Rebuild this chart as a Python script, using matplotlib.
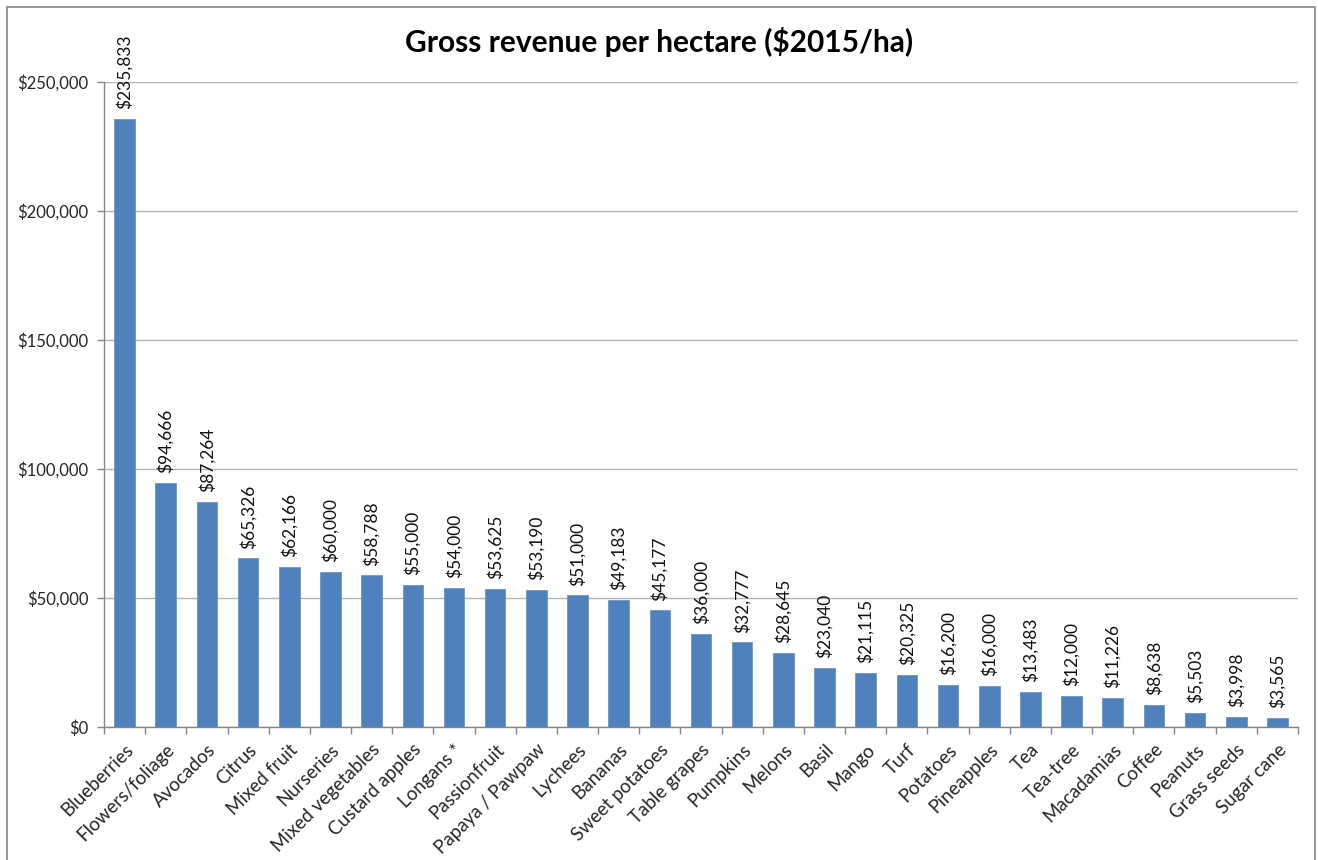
import matplotlib
matplotlib.use("Agg")
import matplotlib.pyplot as plt
from matplotlib.patches import Rectangle
from matplotlib.ticker import FuncFormatter, MultipleLocator, FixedLocator
import numpy as np

plt.rcParams['font.family'] = ['Lato', 'DejaVu Sans']

crops = ["Blueberries", "Flowers/foliage", "Avocados", "Citrus", "Mixed fruit",
         "Nurseries", "Mixed vegetables", "Custard apples", "Longans *",
         "Passionfruit", "Papaya / Pawpaw", "Lychees", "Bananas",
         "Sweet potatoes", "Table grapes", "Pumpkins", "Melons", "Basil",
         "Mango", "Turf", "Potatoes", "Pineapples", "Tea", "Tea-tree",
         "Macadamias", "Coffee", "Peanuts", "Grass seeds", "Sugar cane"]
revenue = [235833, 94666, 87264, 65326, 62166, 60000, 58788, 55000, 54000,
           53625, 53190, 51000, 49183, 45177, 36000, 32777, 28645, 23040,
           21115, 20325, 16200, 16000, 13483, 12000, 11226, 8638, 5503,
           3998, 3565]

W, H = 1318, 860
fig = plt.figure(figsize=(W / 100, H / 100), dpi=100)
ax = fig.add_axes([104 / W, 1 - 727 / H, (1298 - 104) / W, (727 - 82) / H])

x = np.arange(len(crops))
bar_color = "#4F81BD"
ax.bar(x, revenue, width=0.5, color=bar_color, edgecolor="#6A96CC",
       linewidth=0.6, zorder=3)

for xi, v in zip(x, revenue):
    ax.annotate(f"${v:,.0f}", (xi, v), xytext=(0, 7), textcoords="offset points",
                rotation=90, ha="center", va="bottom", fontsize=12.5,
                color="#111111")

ax.set_xlim(-0.5, len(crops) - 0.5)
ax.set_ylim(0, 250000)
ax.yaxis.set_major_locator(MultipleLocator(50000))
ax.yaxis.set_major_formatter(FuncFormatter(lambda v, p: f"${v:,.0f}"))
ax.grid(axis="y", color="#B3B3B3", linewidth=1.0, zorder=0)

ax.set_xticks(x)
ax.set_xticklabels(crops, rotation=45, ha="right", va="top",
                   rotation_mode="anchor", fontsize=13.5)
ax.xaxis.set_minor_locator(FixedLocator(np.arange(-0.5, len(crops), 1.0)))
ax.tick_params(axis="x", which="major", length=0, pad=10)
ax.tick_params(axis="x", which="minor", length=5, color="#868686", width=1)
ax.tick_params(axis="y", length=5, color="#868686", width=1, labelsize=12,
               pad=6, labelcolor="#262626")
ax.tick_params(axis="x", labelcolor="#262626")

for side in ("top", "right"):
    ax.spines[side].set_visible(False)
for side in ("left", "bottom"):
    ax.spines[side].set_color("#868686")
    ax.spines[side].set_linewidth(1)

fig.text(0.5, 1 - 42 / H, "Gross revenue per hectare ($2015/ha)",
         ha="center", va="center", fontsize=21.5, fontweight="bold")

fig.patches.append(Rectangle((7 / W, -0.01), (1315 - 7) / W, 1 - 7 / H + 0.01,
                             transform=fig.transFigure, fill=False,
                             edgecolor="#868686", linewidth=1.2))

fig.savefig("out.png", dpi=100)
